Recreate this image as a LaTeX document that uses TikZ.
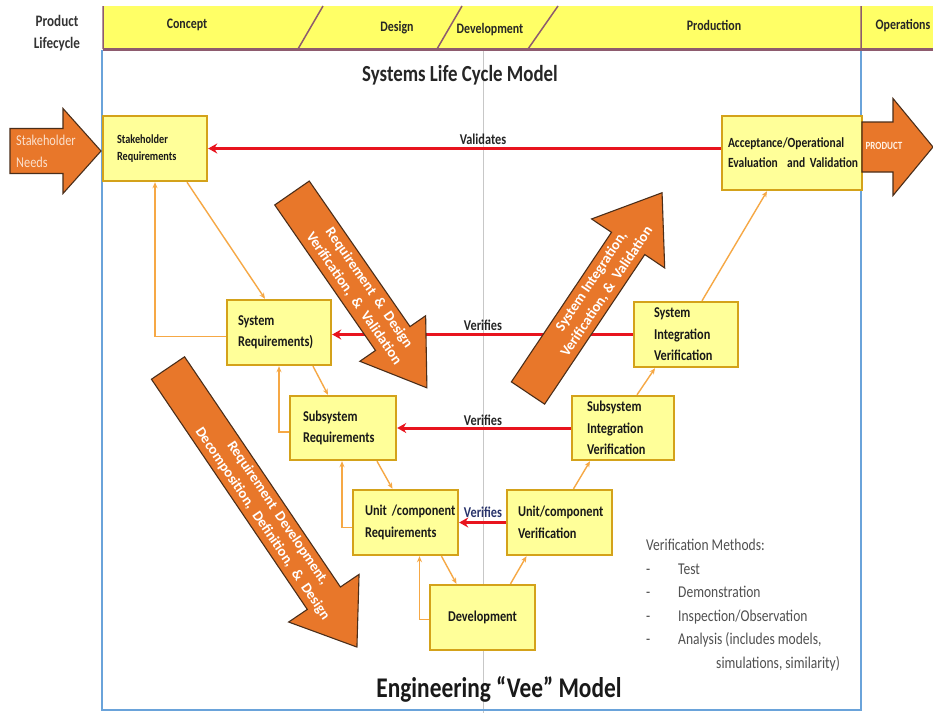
\documentclass[tikz,border=0pt]{standalone}
\usepackage{fontspec}
\setmainfont{Carlito}[FakeStretch=0.82]
\newfontfamily\rotfont{Carlito}
\usetikzlibrary{arrows.meta,calc}
\definecolor{bandyel}{HTML}{FFFF66}
\definecolor{boxyel}{HTML}{FFFF99}
\definecolor{boxgold}{HTML}{D4A21A}
\definecolor{bandline}{HTML}{8E5B6E}
\definecolor{framebl}{HTML}{6AA3DA}
\definecolor{bigor}{HTML}{E8772A}
\definecolor{bigedge}{HTML}{4A2E1A}
\definecolor{thinor}{HTML}{F6A845}
\definecolor{vred}{HTML}{E8141E}
\definecolor{txtgray}{HTML}{505050}
\definecolor{needtxt}{HTML}{FBE0CC}
\definecolor{verblue}{HTML}{28336B}
\newcommand\bigarr[4]{\filldraw[bigarrow] (0,-#2/2) -- (#1-#4,-#2/2) -- (#1-#4,-#3/2) -- (#1,0) -- (#1-#4,#3/2) -- (#1-#4,#2/2) -- (0,#2/2) -- cycle;}
\begin{document}
\begin{tikzpicture}[x=1pt,y=-1pt,
  vbox/.style n args={3}{draw=boxgold, fill=boxyel, line width=2.4pt, inner sep=0pt,
     minimum width=#1pt, minimum height=#2pt, text width=#3pt, align=left, text=black!90},
  boxfont/.style={font=\fontsize{15}{21.5}\selectfont\bfseries},
  thin/.style={draw=thinor, line width=1.4pt, -{Stealth[length=6pt,width=5pt]}},
  redarr/.style={draw=vred, line width=3pt, -{Stealth[length=9pt,width=10pt]}},
  redlbl/.style={font=\fontsize{15}{17}\selectfont\bfseries, text=black!85, inner sep=1pt},
  bigarrow/.style={fill=bigor, draw=bigedge, line width=1.1pt, line join=miter},
  arrtxt/.style={transform shape, align=center, text=white, inner sep=0pt,
     font=\rotfont\fontsize{14.5}{18.5}\selectfont\bfseries},
  bandtxt/.style={font=\fontsize{14.5}{16}\selectfont\bfseries, text=black!85, inner sep=0pt}]
\useasboundingbox (0,0) rectangle (933,713);
\fill[white] (0,0) rectangle (933,713);

% centre line and frame
\draw[black!22, line width=1pt] (483,50) -- (483,713);
\draw[framebl, line width=1.3pt] (102,50) -- (102,710) -- (861,710) -- (861,50);

% lifecycle band
\fill[bandyel] (103,6) rectangle (933,49);
\draw[bandline, line width=1.5pt] (323,6) -- (298,49) (462,6) -- (437,49) (558,6) -- (528,49)
   (103,6) -- (103,49) (861,6) -- (861,49);
\draw[bandline, line width=3pt] (103,49) -- (933,49);
\node[font=\fontsize{16}{22}\selectfont\bfseries, text=black!80, align=center] (plc) at (57,33) {Product\\Lifecycle};
\node[bandtxt] (bconcept) at (187,25) {Concept};
\node[bandtxt] (bdesign) at (397,28) {Design};
\node[bandtxt] (bdevel) at (490,30) {Development};
\node[bandtxt] (bprod) at (714,25) {Production};
\node[bandtxt] (bops) at (903,26) {Operations};

% titles
\node[font=\fontsize{23}{26}\selectfont\bfseries, text=black!85] (title1) at (460,75) {Systems Life Cycle Model};
\node[font=\fontsize{28.5}{32}\selectfont\bfseries, text=black!90] (title2) at (499,689) {Engineering “Vee” Model};

% boxes
\node[vbox={104}{65}{76}, font=\fontsize{12.5}{17}\selectfont\bfseries] (sr) at (155,148.5) {\mbox{Stakeholder}\\\mbox{Requirements}};
\node[vbox={140}{74}{128}, font=\fontsize{14}{20}\selectfont\bfseries] (acc) at (792,153) {\mbox{Acceptance/Operational}\\\mbox{Evaluation \ and Validation}};
\node[vbox={104}{65}{82}, boxfont] (sys) at (279,332.5) {\mbox{System}\\\mbox{Requirements)}};
\node[vbox={104}{65}{64}, boxfont] (sint) at (686,334.5) {\mbox{System}\\\mbox{Integration}\\\mbox{Verification}};
\node[vbox={106}{64}{80}, boxfont] (sub) at (343,428) {\mbox{Subsystem}\\\mbox{Requirements}};
\node[vbox={102}{64}{72}, boxfont] (subint) at (623,428) {\mbox{Subsystem}\\\mbox{Integration}\\\mbox{Verification}};
\node[vbox={105}{65}{81}, boxfont] (unit) at (405.5,522.5) {\mbox{Unit /component}\\\mbox{Requirements}};
\node[vbox={105}{65}{83}, boxfont] (unitv) at (559.5,522.5) {\mbox{Unit/component}\\\mbox{Verification}};
\node[vbox={105}{65}{85}, boxfont, align=center] (dev) at (482.5,617.5) {Development};

% thin orange connectors
\draw[thin] ([xshift=32pt]sr.south) -- ([xshift=-14pt]sys.north);
\draw[thin] ([yshift=-4pt]sys.west) -| (sr.south);
\draw[thin] ([xshift=34pt]sys.south) -- ([xshift=-15pt]sub.north);
\draw[thin] ([yshift=-4pt]sub.west) -| (sys.south);
\draw[thin] ([xshift=34pt]sub.south) -- ([xshift=-13pt]unit.north);
\draw[thin] ([yshift=-5pt]unit.west) -| ([xshift=-1pt]sub.south);
\draw[thin] ([xshift=36pt]unit.south) -- ([xshift=-26pt]dev.north);
\draw[thin] ([yshift=-2pt]dev.west) -| ([xshift=14pt]unit.south);
\draw[thin] ([xshift=28pt]dev.north) -- ([xshift=-33pt]unitv.south);
\draw[thin] ([xshift=14pt]unitv.north) -- ([xshift=-33pt]subint.south);
\draw[thin] ([xshift=14pt]subint.north) -- ([xshift=-31pt]sint.south);
\draw[thin] ([xshift=16pt]sint.north) -- ([xshift=-25pt]acc.south);

% red verification arrows
\draw[redarr] (acc.west |- sr.east) -- (sr.east);
\draw[redarr] (sint.west) -- (sint.west -| sys.east);
\draw[redarr] (subint.west) -- (subint.west -| sub.east);
\draw[redarr] (unitv.west) -- (unitv.west -| unit.east);
\node[redlbl] (lval) at (483,139) {Validates};
\node[redlbl] (lver1) at (483,325) {Verifies};
\node[redlbl] (lver2) at (483,420) {Verifies};
\node[redlbl, text=verblue] (lver3) at (483,512) {Verifies};

% big orange arrows
\begin{scope}[shift={(10,151)}]
  \bigarr{91}{45}{85}{38}
\end{scope}
\node[anchor=west, align=left, text=needtxt, inner sep=0pt, font=\fontsize{15}{22}\selectfont] (needs) at (16,151) {Stakeholder\\Needs};
\begin{scope}[shift={(862,147)}]
  \bigarr{71}{50}{97}{40}
\end{scope}
\node[text=white!90!orange, inner sep=0pt, font=\fontsize{11}{12}\selectfont\bfseries] (prodtxt) at (884,146) {PRODUCT};

\begin{scope}[shift={(292,193)}, rotate=-55.3]
  \bigarr{237}{42}{80}{60}
  \node[arrtxt] (a3txt) at (122,0) {Requirement \ \& \ Design\\Verification, \ \& \ Validation};
\end{scope}
\begin{scope}[shift={(528,393)}, rotate=56.2]
  \bigarr{241}{40}{88}{61}
  \node[arrtxt] (a4txt) at (128,0) {System Integration,\\Verification, \& \ Validation};
\end{scope}
\begin{scope}[shift={(168,368)}, rotate=-55.9]
  \bigarr{337}{40}{85}{59}
  \node[arrtxt] (a5txt) at (182,0) {Requirement \ Development,\\Decomposition, \ Definition, \ \& \ Design};
\end{scope}

% verification methods
\node[anchor=north west, align=left, text=txtgray, inner sep=0pt, font=\fontsize{16.5}{23.5}\selectfont] (vm) at (646,539)
  {Verification Methods:\\
   \makebox[32pt][l]{-}Test\\
   \makebox[32pt][l]{-}Demonstration\\
   \makebox[32pt][l]{-}Inspection/Observation\\
   \makebox[32pt][l]{-}Analysis (includes models,\\
   \hspace*{70pt}simulations, similarity)};
\end{tikzpicture}
\end{document}
